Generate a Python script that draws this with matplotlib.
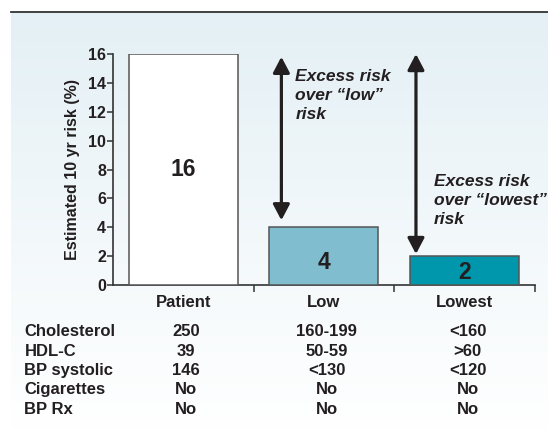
import numpy as np
import matplotlib
matplotlib.use("Agg")
import matplotlib.pyplot as plt
from matplotlib.patches import FancyArrowPatch
from matplotlib.lines import Line2D
from matplotlib.transforms import blended_transform_factory, offset_copy

# ---- data ----
categories = ["Patient", "Low", "Lowest"]
risk_values = [16, 4, 2]
row_labels = ["Cholesterol", "HDL-C", "BP systolic", "Cigarettes", "BP Rx"]
table_values = [
    ["250", "160-199", "<160"],
    ["39", "50-59", ">60"],
    ["146", "<130", "<120"],
    ["No", "No", "No"],
    ["No", "No", "No"],
]
y_ticks = [0, 2, 4, 6, 8, 10, 12, 14, 16]

# ---- style ----
plt.rcParams["font.family"] = ["Liberation Sans", "DejaVu Sans"]
plt.rcParams["font.weight"] = "bold"
TXT = "#231f20"
bar_colors = ["#ffffff", "#7fbdcf", "#0096ac"]
W, H = 548, 430

fig = plt.figure(figsize=(W / 100, H / 100), dpi=100)
fig.patch.set_facecolor("white")

# light blue panel fading to white
bg = fig.add_axes([10.5 / W, 0, 1 - 10.5 / W, 1 - 12 / H])
grad = np.linspace(0, 1, 256)[:, None]
top = np.array([0.894, 0.941, 0.961])
bottom = np.array([1.0, 1.0, 1.0])
img = top[None, None, :] * (1 - grad[:, :, None]) + bottom[None, None, :] * grad[:, :, None]
bg.imshow(img, aspect="auto", extent=[0, 1, 0, 1], origin="upper")
bg.set_axis_off()

# rule across the top
fig.add_artist(Line2D([10.5 / W, 1], [1 - 11.5 / H, 1 - 11.5 / H],
                      transform=fig.transFigure, color="#333333", lw=1.3))

# main axes
ax_l, ax_r, ax_b, ax_t = 112.9, 534.8, 285, 54
ax = fig.add_axes([ax_l / W, 1 - ax_b / H, (ax_r - ax_l) / W, (ax_b - ax_t) / H])
ax.patch.set_alpha(0)
x = np.arange(len(categories))
ax.bar(x, risk_values, width=0.775, color=bar_colors, edgecolor="#555555",
       linewidth=1.1, zorder=3)
ax.set_xlim(-0.5, len(categories) - 0.5)
ax.set_ylim(0, 16)
ax.set_yticks(y_ticks)
ax.set_yticklabels([str(t) for t in y_ticks], fontsize=11.5, fontweight="bold", color=TXT)
ax.set_xticks([])
ax.set_xticks(np.arange(len(categories)) + 0.5, minor=True)
ax.tick_params(axis="x", which="minor", direction="out", length=5, width=1.1, color="#333333")
ax.tick_params(axis="y", direction="out", length=4, width=1.1, color="#333333", pad=1)
for s in ["top", "right"]:
    ax.spines[s].set_visible(False)
for s in ["left", "bottom"]:
    ax.spines[s].set_color("#333333")
    ax.spines[s].set_linewidth(1.2)
ax.set_ylabel("Estimated 10 yr risk (%)", fontsize=11.5, fontweight="bold", color=TXT, labelpad=6)

# value labels inside bars
label_shift = [0, -6, -2]
for xi, v, dy in zip(x, risk_values, label_shift):
    tr = offset_copy(ax.transData, fig=fig, x=0, y=dy, units="dots")
    ax.text(xi, v / 2, str(v), ha="center", va="center", fontsize=16.5,
            fontweight="bold", color=TXT, transform=tr, zorder=4)

# excess-risk arrows
def excess_arrow(xpos, lo, hi, shrink_lo, shrink_hi):
    arr = FancyArrowPatch((xpos, lo), (xpos, hi),
                          arrowstyle="<|-|>,head_length=9.5,head_width=5",
                          mutation_scale=1, lw=2.3, color="#231f20",
                          shrinkA=shrink_lo, shrinkB=shrink_hi, zorder=5,
                          clip_on=False)
    ax.add_patch(arr)

excess_arrow(0.698, risk_values[1], risk_values[0], 5, 2)
excess_arrow(1.655, risk_values[2], risk_values[0], 1.5, 0)

ax.text(0.797, 11.5, "Excess risk\nover \u201clow\u201d\nrisk", ha="left", va="baseline",
        fontsize=12.5, fontweight="bold", style="italic", color=TXT, linespacing=1.33)
ax.text(1.780, 4.2, "Excess risk\nover \u201clowest\u201d\nrisk", ha="left", va="baseline",
        fontsize=12.5, fontweight="bold", style="italic", color=TXT, linespacing=1.33)

# category labels and profile table below the axis
bt = blended_transform_factory(ax.transData, fig.transFigure)
bt_val = offset_copy(bt, fig=fig, x=3, y=0, units="dots")
for xi, c in zip(x, categories):
    ax.text(xi, 1 - 302.7 / H, c, ha="center", va="center", fontsize=12,
            fontweight="bold", color=TXT, transform=bt, clip_on=False)

row0, row_step = 331.7, 19.4
for r, (lab, vals) in enumerate(zip(row_labels, table_values)):
    yf = 1 - (row0 + r * row_step) / H
    fig.text(24.5 / W, yf, lab, ha="left", va="center", fontsize=12,
             fontweight="bold", color=TXT)
    for xi, val in zip(x, vals):
        ax.text(xi, yf, val, ha="center", va="center", fontsize=12,
                fontweight="bold", color=TXT, transform=bt_val, clip_on=False)

fig.savefig("out.png", dpi=100)
